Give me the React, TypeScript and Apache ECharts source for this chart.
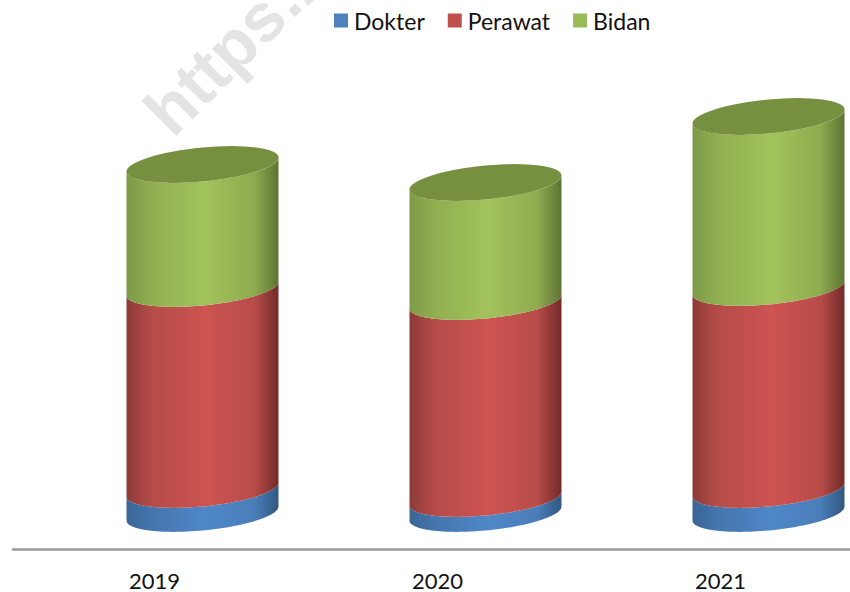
import React, { useEffect, useRef } from "react";
import * as echarts from "echarts";

const years = ["2019", "2020", "2021"];
const dokter = [24, 15, 24];
const perawat = [201, 197, 202];
const bidan = [124, 119, 171];

const seriesNames = ["Dokter", "Perawat", "Bidan"];
const seriesValues = [dokter, perawat, bidan];
const legendColors = ["#4f81bd", "#c0504d", "#9bbb59"];
const shades = [
  ["#3a6596", "#4475ad", "#4f87c8", "#4a7eb9", "#30577f"],
  ["#8c3a38", "#b54b48", "#cd5451", "#b84c49", "#722b2a"],
  ["#7c9947", "#90ae50", "#a2c35c", "#8fab4f", "#5d7433"],
];
const capColor = "#76903f";

const HALF_W = 76;
const ARC_B = 17;
const SHEAR = 7;
const DEPTH_X = 48;
const DEPTH_Y = -35.5;

function arc(cx: number, cy: number, from: number, to: number) {
  const pts: number[][] = [];
  const n = 64;
  for (let i = 0; i <= n; i++) {
    const t = from + ((to - from) * i) / n;
    const c = Math.cos(t);
    pts.push([cx + HALF_W * c, cy - SHEAR * c + ARC_B * Math.sin(t)]);
  }
  return pts;
}

function makeRenderer(seriesIndex: number) {
  return (params: any, api: any) => {
    const cat = api.value(0);
    const start = api.value(1);
    const end = api.value(2);
    const lo = api.coord([cat, start]);
    const hi = api.coord([cat, end]);
    const cx = lo[0] + DEPTH_X;
    const yLo = lo[1] + DEPTH_Y;
    const yHi = hi[1] + DEPTH_Y;
    const s = shades[seriesIndex];
    const children: any[] = [
      {
        type: "polygon",
        shape: { points: [...arc(cx, yHi, 0, Math.PI), ...arc(cx, yLo, Math.PI, 0)] },
        style: {
          fill: new echarts.graphic.LinearGradient(0, 0, 1, 0, [
            { offset: 0, color: s[0] },
            { offset: 0.16, color: s[1] },
            { offset: 0.52, color: s[2] },
            { offset: 0.84, color: s[3] },
            { offset: 1, color: s[4] },
          ]),
        },
      },
    ];
    if (seriesIndex === seriesValues.length - 1) {
      children.push({
        type: "polygon",
        shape: { points: arc(cx, yHi, 0, Math.PI * 2) },
        style: { fill: capColor },
      });
    }
    return { type: "group", children };
  };
}

export default function App() {
  const ref = useRef<HTMLDivElement>(null);
  useEffect(() => {
    document.body.style.margin = "0";
    const chart = echarts.init(ref.current!, null, { renderer: "svg" });
    const base = [0, 0, 0];
    const series = seriesNames.map((name, si) => {
      const data = years.map((_, i) => {
        const start = base[i];
        base[i] += seriesValues[si][i];
        return [i, start, base[i]];
      });
      return {
        type: "custom",
        name,
        clip: false,
        z: 2 + si,
        itemStyle: { color: legendColors[si] },
        encode: { x: 0, y: [1, 2] },
        renderItem: makeRenderer(si),
        data,
      };
    });
    chart.setOption({
      animation: false,
      backgroundColor: "#ffffff",
      grid: { left: 13, width: 849, top: 13, height: 536, outerBoundsMode: "none" },
      legend: {
        left: 329,
        top: 4,
        itemWidth: 14,
        itemHeight: 14,
        itemGap: 23,
        icon: "rect",
        data: seriesNames,
        textStyle: { fontFamily: "Lato", fontSize: 23, color: "#111111", padding: [0, 0, 0, 1] },
      },
      xAxis: {
        type: "category",
        data: years,
        axisLine: { onZero: false, lineStyle: { color: "#999999", width: 2.5 } },
        axisTick: { show: false },
        axisLabel: { margin: 20, fontFamily: "Lato", fontSize: 22, color: "#111111" },
      },
      yAxis: { type: "value", min: 0, max: 536, show: false, splitLine: { show: false } },
      graphic: [
        {
          type: "text",
          x: 180,
          y: 146,
          rotation: Math.PI / 4,
          silent: true,
          z: 0,
          style: {
            text: "https://",
            fontFamily: "Liberation Sans",
            fontWeight: "bold",
            fontSize: 68,
            fill: "#e4e4e4",
            textAlign: "left",
            textVerticalAlign: "bottom",
          },
        },
      ],
      series,
    });
    return () => chart.dispose();
  }, []);
  return <div ref={ref} style={{ width: 850, height: 592 }} />;
}
